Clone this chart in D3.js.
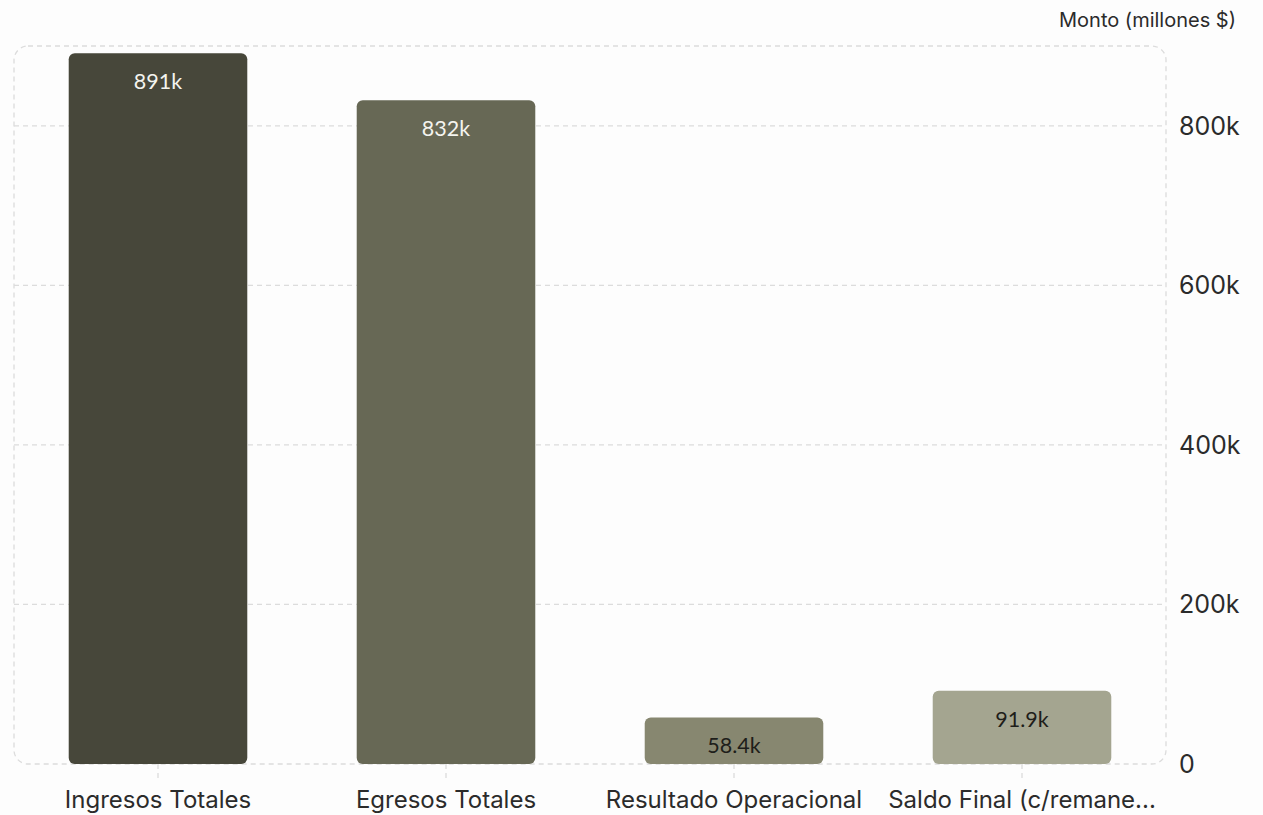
<!DOCTYPE html>
<html>
<head>
<meta charset="utf-8">
<script src="https://cdn.jsdelivr.net/npm/d3@7"></script>
<style>
  html, body { margin: 0; padding: 0; background: #fdfdfd; }
  svg { display: block; }
</style>
</head>
<body>
<svg id="chart"></svg>
<script>
var categories = ["Ingresos Totales", "Egresos Totales", "Resultado Operacional", "Saldo Final (c/remane..."];
var values = [891000, 832000, 58400, 91900];
var valueLabels = ["891k", "832k", "58.4k", "91.9k"];
var barColors = ["#47473a", "#676855", "#878770", "#a4a590"];
var labelColors = ["#f4f4ef", "#f4f4ef", "#1e1e1a", "#1e1e1a"];
var yTicks = [0, 200000, 400000, 600000, 800000];

var screen = { width: 1263, height: 815 };
var plot = { left: 14, right: 1166, top: 46, bottom: 764 };

var svg = d3.select("#chart")
            .attr("width", screen.width)
            .attr("height", screen.height);

var x = d3.scaleBand()
          .domain(categories)
          .range([plot.left, plot.right])
          .paddingInner(0.38)
          .paddingOuter(0.19);

var y = d3.scaleLinear()
          .domain([0, 900000])
          .range([plot.bottom, plot.top]);

var fmt = function(d){ return d === 0 ? "0" : d3.format("~s")(d); };

// gridlines
svg.append("g")
   .selectAll("line")
   .data(yTicks.slice(1))
   .enter()
   .append("line")
   .attr("x1", plot.left)
   .attr("x2", plot.right)
   .attr("y1", function(d){ return y(d); })
   .attr("y2", function(d){ return y(d); })
   .attr("stroke", "#dcdcdc")
   .attr("stroke-width", 1.3)
   .attr("stroke-dasharray", "5,4");

// rounded dashed frame
svg.append("rect")
   .attr("x", plot.left)
   .attr("y", plot.top)
   .attr("width", plot.right - plot.left)
   .attr("height", plot.bottom - plot.top)
   .attr("rx", 14)
   .attr("fill", "none")
   .attr("stroke", "#dcdcdc")
   .attr("stroke-width", 1.3)
   .attr("stroke-dasharray", "5,4");

// x tick marks
svg.append("g")
   .selectAll("line")
   .data(categories)
   .enter()
   .append("line")
   .attr("x1", function(d){ return x(d) + x.bandwidth() / 2; })
   .attr("x2", function(d){ return x(d) + x.bandwidth() / 2; })
   .attr("y1", plot.bottom)
   .attr("y2", plot.bottom + 16)
   .attr("stroke", "#dcdcdc")
   .attr("stroke-width", 1.3)
   .attr("stroke-dasharray", "5,4");

// bars
var bars = svg.append("g")
              .selectAll("g")
              .data(categories)
              .enter()
              .append("g");

bars.append("rect")
    .attr("x", function(d){ return x(d); })
    .attr("y", function(d, i){ return y(values[i]); })
    .attr("width", x.bandwidth())
    .attr("height", function(d, i){ return y(0) - y(values[i]); })
    .attr("rx", 6)
    .attr("fill", function(d, i){ return barColors[i]; });

bars.append("text")
    .text(function(d, i){ return valueLabels[i]; })
    .attr("x", function(d){ return x(d) + x.bandwidth() / 2; })
    .attr("y", function(d, i){ return y(values[i]) + 36; })
    .attr("text-anchor", "middle")
    .attr("font-family", "Lato, sans-serif")
    .attr("font-size", "21.5px")
    .attr("fill", function(d, i){ return labelColors[i]; });

// x axis labels
svg.append("g")
   .selectAll("text")
   .data(categories)
   .enter()
   .append("text")
   .text(function(d){ return d; })
   .attr("x", function(d){ return x(d) + x.bandwidth() / 2; })
   .attr("y", 808)
   .attr("text-anchor", "middle")
   .attr("font-family", "Inter, sans-serif")
   .attr("font-size", "24px")
   .attr("fill", "#2b2b2b");

// y axis labels (right side)
svg.append("g")
   .selectAll("text")
   .data(yTicks)
   .enter()
   .append("text")
   .text(fmt)
   .attr("x", 1179)
   .attr("y", function(d){ return y(d); })
   .attr("dy", "0.36em")
   .attr("font-family", "Inter, sans-serif")
   .attr("font-size", "25px")
   .attr("fill", "#2b2b2b");

// axis title
svg.append("text")
   .text("Monto (millones $)")
   .attr("x", 1236)
   .attr("y", 27)
   .attr("text-anchor", "end")
   .attr("font-family", "Inter, sans-serif")
   .attr("font-size", "20px")
   .attr("fill", "#2b2b2b");
</script>
</body>
</html>
